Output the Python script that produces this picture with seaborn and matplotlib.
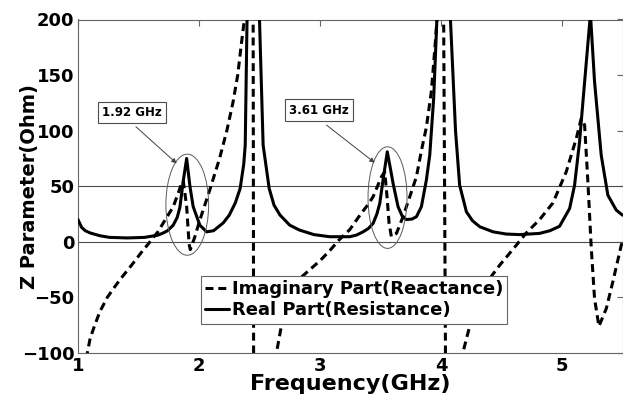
import matplotlib
matplotlib.use("Agg")
import matplotlib.pyplot as plt
import seaborn as sns
from matplotlib.patches import Ellipse

# Imaginary part (reactance) of the input impedance, Ohm
freq_imag = [1.05, 1.077, 1.10, 1.135, 1.18, 1.242, 1.30, 1.347, 1.45, 1.52,
             1.595, 1.66, 1.705, 1.787, 1.826, 1.856, 1.87, 1.898, 1.918, 1.928,
             1.966, 2.007, 2.09, 2.17, 2.23, 2.28, 2.32, 2.35, 2.375, 2.41,
             2.446, 2.452, 2.60, 2.64, 2.68, 2.72, 2.76, 2.833, 2.916, 3.00,
             3.08, 3.16, 3.246, 3.33, 3.40, 3.439, 3.508, 3.535, 3.554, 3.571,
             3.59, 3.632, 3.686, 3.742, 3.797, 3.838, 3.879, 3.92, 3.95, 3.97,
             4.00, 4.016, 4.04, 4.10, 4.18, 4.237, 4.30, 4.375, 4.485, 4.60,
             4.705, 4.815, 4.925, 5.035, 5.118, 5.159, 5.187, 5.214, 5.242, 5.269,
             5.305, 5.366, 5.42, 5.49, 5.50]
z_imag = [-140, -100, -87, -76, -63, -50, -41, -34, -20, -10,
          0, 9, 17, 31.6, 43, 52.6, 55, 31.6, -2, -7,
          4.6, 19.6, 47, 75, 100, 125, 150, 178, 200, 250,
          320, -160, -160, -100, -76, -60, -47, -33, -25, -17,
          -8, 2, 11, 24, 34, 40.6, 58.6, 63, 40.6, 16.6,
          4.6, 7.6, 22.6, 40.6, 58.6, 82, 103, 135, 175, 205,
          280, 320, -160, -160, -100, -76, -52, -37, -21, -6,
          8, 20, 35, 63, 93, 111, 105, 54, -6, -51,
          -76, -60, -36, -3, 0]

# Real part (resistance) of the input impedance, Ohm
freq_real = [1.00, 1.03, 1.06, 1.10, 1.18, 1.26, 1.41, 1.55, 1.66, 1.705,
             1.74, 1.787, 1.82, 1.842, 1.87, 1.898, 1.925, 1.952, 2.007, 2.063,
             2.12, 2.20, 2.25, 2.30, 2.34, 2.37, 2.382, 2.397, 2.44, 2.50,
             2.53, 2.58, 2.62, 2.67, 2.75, 2.83, 2.95, 3.08, 3.246, 3.30,
             3.356, 3.40, 3.439, 3.47, 3.494, 3.521, 3.556, 3.58, 3.604, 3.645,
             3.68, 3.714, 3.76, 3.797, 3.838, 3.879, 3.907, 3.94, 3.966, 4.02,
             4.078, 4.12, 4.154, 4.21, 4.26, 4.32, 4.43, 4.54, 4.65, 4.815,
             4.90, 4.98, 5.063, 5.104, 5.145, 5.187, 5.235, 5.269, 5.324, 5.379,
             5.448, 5.50]
z_real = [20, 13, 10, 8, 5.5, 4, 3.5, 4, 6, 8,
          10, 15, 22, 31, 55, 75, 50, 31.6, 15, 9,
          10, 17, 24, 35, 48, 70, 87, 200, 450, 200,
          87, 48, 33, 24, 15, 10.6, 6.5, 4.6, 4.6, 6,
          9, 12, 16.6, 25, 34.6, 55.6, 81, 67, 52.6, 31.6,
          23, 20, 20.5, 22.6, 31.6, 55.6, 78, 130, 200, 450,
          200, 100, 51, 27, 19, 13.6, 9, 7, 6.5, 7.6,
          10, 14, 30, 51, 90, 144, 205, 144, 78, 42,
          28.6, 24]

imag_label = "Imaginary Part(Reactance)"
real_label = "Real Part(Resistance)"

x_ticks = [1, 2, 3, 4, 5]
y_ticks = [-100, -50, 0, 50, 100, 150, 200]
ref_levels = [0, 50]

# marked resonances: label, label box centre, arrow start/end, ellipse centre and size
res_labels = ["1.92 GHz", "3.61 GHz"]
res_box_xy = [(1.443, 116.6), (2.99, 118.5)]
res_arrow_from = [(1.479, 103.5), (3.054, 105.0)]
res_arrow_to = [(1.815, 70.6), (3.452, 71.2)]
res_ell_center = [(1.903, 33.4), (3.558, 39.8)]
res_ell_size = [(0.353, 90.9), (0.322, 91.4)]

sns.set_style("white")
plt.rcParams["font.family"] = ["DejaVu Sans"]
plt.rcParams["font.weight"] = "bold"
plt.rcParams["text.color"] = "black"
plt.rcParams["axes.labelcolor"] = "black"

fig = plt.figure(figsize=(6.23, 3.99), dpi=100)
ax = fig.add_axes([78 / 623, 1 - 353 / 399, 544.5 / 623, 333.5 / 399])

for lvl in ref_levels:
    ax.axhline(lvl, color="0.3", lw=0.8, zorder=1)

sns.lineplot(x=freq_imag, y=z_imag, ax=ax, color="black", lw=2.2,
             linestyle=(0, (2.6, 1.6)), sort=False, legend=False, zorder=3)
line_imag = ax.lines[-1]
sns.lineplot(x=freq_real, y=z_real, ax=ax, color="black", lw=2.2,
             sort=False, legend=False, zorder=3)
line_real = ax.lines[-1]
for ln in (line_imag, line_real):
    ln.set_solid_joinstyle("round")
    ln.set_dash_joinstyle("round")

ax.set_xlim(1, 5.5)
ax.set_ylim(-100, 200)
ax.set_xticks(x_ticks)
ax.set_yticks(y_ticks)
ax.tick_params(direction="in", top=True, right=True, length=4.5, width=0.8,
               color="0.4", labelcolor="black", labelsize=13)
ax.tick_params(axis="x", pad=3)
ax.tick_params(axis="y", pad=2.5)
for lab in ax.get_xticklabels() + ax.get_yticklabels():
    lab.set_fontweight("bold")
for sp in ax.spines.values():
    sp.set_color("0.4")
    sp.set_linewidth(0.8)

ax.set_xlabel("Frequency(GHz)", fontsize=16, fontweight="bold", color="black")
ax.xaxis.set_label_coords(0.5, -0.062)
ax.set_ylabel("Z Parameter(Ohm)", fontsize=14, fontweight="bold", color="black")
ax.yaxis.set_label_coords(-0.072, 0.5)

for lab, bxy, a0, a1, c, (w, h) in zip(res_labels, res_box_xy, res_arrow_from,
                                       res_arrow_to, res_ell_center, res_ell_size):
    ax.add_patch(Ellipse(c, w, h, fill=False, ec="0.35", lw=0.7, zorder=4))
    ax.annotate("", xy=a1, xytext=a0,
                arrowprops=dict(arrowstyle="-|>", color="0.25", lw=0.7,
                                mutation_scale=7, shrinkA=0, shrinkB=0),
                zorder=5)
    ax.text(bxy[0], bxy[1], lab, ha="center", va="center", fontsize=8.5,
            fontweight="bold", color="black", zorder=6,
            bbox=dict(boxstyle="square,pad=0.35", fc="white", ec="0.3", lw=0.8))

leg = ax.legend([line_imag, line_real], [imag_label, real_label],
                loc="upper left", bbox_to_anchor=(0.2257, 0.231),
                borderaxespad=0, prop={"weight": "bold", "size": 13},
                handlelength=1.3, handletextpad=0.15, labelspacing=0.15,
                borderpad=0.25, fancybox=False, framealpha=1, edgecolor="0.4")
leg.get_frame().set_linewidth(0.8)
for t in leg.get_texts():
    t.set_color("black")
leg.set_zorder(7)

fig.savefig("out.png", dpi=100)
